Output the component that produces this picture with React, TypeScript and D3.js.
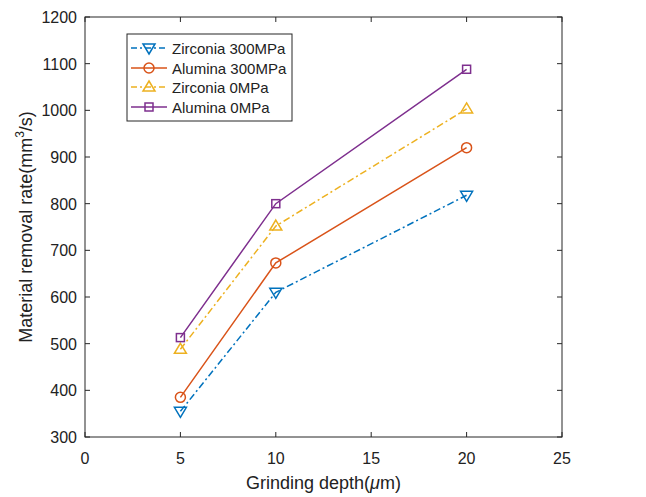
import React from "react";
import * as d3 from "d3";

const depths = [5, 10, 20];
const zirconia300 = [355, 610, 818];
const alumina300 = [385, 673, 920];
const zirconia0 = [488, 752, 1003];
const alumina0 = [513, 800, 1088];
const xTicks = [0, 5, 10, 15, 20, 25];
const yTicks = [300, 400, 500, 600, 700, 800, 900, 1000, 1100, 1200];

const seriesNames = ["Zirconia 300MPa", "Alumina 300MPa", "Zirconia 0MPa", "Alumina 0MPa"];
const seriesValues = [zirconia300, alumina300, zirconia0, alumina0];
const seriesColors = ["#0072BD", "#D95319", "#EDB120", "#7E2F8E"];
const seriesDash = ["7,3,2,3", "none", "7,3,2,3", "none"];
const seriesMarker = ["tridown", "circle", "triup", "square"];

const W = 646, H = 497;
const L = 85, R = 562, T = 17, B = 437;

function Marker({ type, x, y, color }: { type: string; x: number; y: number; color: string }) {
  const s = 5;
  if (type === "circle") return <circle cx={x} cy={y} r={5} fill="none" stroke={color} strokeWidth={1.5} />;
  if (type === "square") return <rect x={x - 4} y={y - 4} width={8} height={8} fill="none" stroke={color} strokeWidth={1.5} />;
  if (type === "triup")
    return <path d={`M${x},${y - s - 1} L${x + s + 1},${y + s - 1} L${x - s - 1},${y + s - 1} Z`} fill="none" stroke={color} strokeWidth={1.5} />;
  return <path d={`M${x},${y + s + 1} L${x + s + 1},${y - s + 1} L${x - s - 1},${y - s + 1} Z`} fill="none" stroke={color} strokeWidth={1.5} />;
}

export default function App() {
  const x = d3.scaleLinear().domain([0, 25]).range([L, R]);
  const y = d3.scaleLinear().domain([300, 1200]).range([B, T]);
  const line = d3.line<[number, number]>().x((d) => x(d[0])).y((d) => y(d[1]));
  const axisColor = "#262626";
  const font = "'Liberation Sans', Arial, sans-serif";

  const legX = 127, legY = 34, legW = 165, legH = 87;
  const rowY = [48, 68, 87, 107];

  return (
    <svg width={W} height={H} style={{ position: "absolute", left: 0, top: 0, background: "#fff" }} fontFamily={font}>
      <rect x={0} y={0} width={W} height={H} fill="#fff" />
      {seriesValues.map((vals, i) => (
        <g key={i}>
          <path
            d={line(depths.map((d, j) => [d, vals[j]] as [number, number])) || ""}
            fill="none"
            stroke={seriesColors[i]}
            strokeWidth={1.5}
            strokeDasharray={seriesDash[i]}
          />
          {depths.map((d, j) => (
            <Marker key={j} type={seriesMarker[i]} x={x(d)} y={y(vals[j])} color={seriesColors[i]} />
          ))}
        </g>
      ))}
      <rect x={L} y={T} width={R - L} height={B - T} fill="none" stroke={axisColor} strokeWidth={1} />
      {xTicks.map((t) => (
        <g key={"x" + t}>
          <line x1={x(t)} x2={x(t)} y1={B} y2={B - 5} stroke={axisColor} />
          <line x1={x(t)} x2={x(t)} y1={T} y2={T + 5} stroke={axisColor} />
          <text x={x(t)} y={B + 27} textAnchor="middle" fontSize={16} fill="#222">
            {t}
          </text>
        </g>
      ))}
      {yTicks.map((t) => (
        <g key={"y" + t}>
          <line x1={L} x2={L + 5} y1={y(t)} y2={y(t)} stroke={axisColor} />
          <line x1={R} x2={R - 5} y1={y(t)} y2={y(t)} stroke={axisColor} />
          <text x={L - 8} y={y(t) + 6} textAnchor="end" fontSize={16} fill="#222">
            {t}
          </text>
        </g>
      ))}
      <text x={(L + R) / 2} y={489} textAnchor="middle" fontSize={18} fill="#222">
        Grinding depth(<tspan fontStyle="italic">μ</tspan>m)
      </text>
      <text transform={`translate(32,${(T + B) / 2}) rotate(-90)`} textAnchor="middle" fontSize={18} fill="#222">
        Material removal rate(mm<tspan dy={-8} fontSize={12}>3</tspan>
        <tspan dy={8}>/s)</tspan>
      </text>
      <rect x={legX} y={legY} width={legW} height={legH} fill="#fff" stroke={axisColor} strokeWidth={1} />
      {seriesNames.map((n, i) => (
        <g key={n}>
          <line x1={legX + 4} x2={legX + 40} y1={rowY[i]} y2={rowY[i]} stroke={seriesColors[i]} strokeWidth={1.5} strokeDasharray={seriesDash[i] === "none" ? "none" : "6,3,2,3"} />
          <Marker type={seriesMarker[i]} x={legX + 22} y={rowY[i]} color={seriesColors[i]} />
          <text x={legX + 45} y={rowY[i] + 5.5} fontSize={15} fill="#222">
            {n}
          </text>
        </g>
      ))}
    </svg>
  );
}
